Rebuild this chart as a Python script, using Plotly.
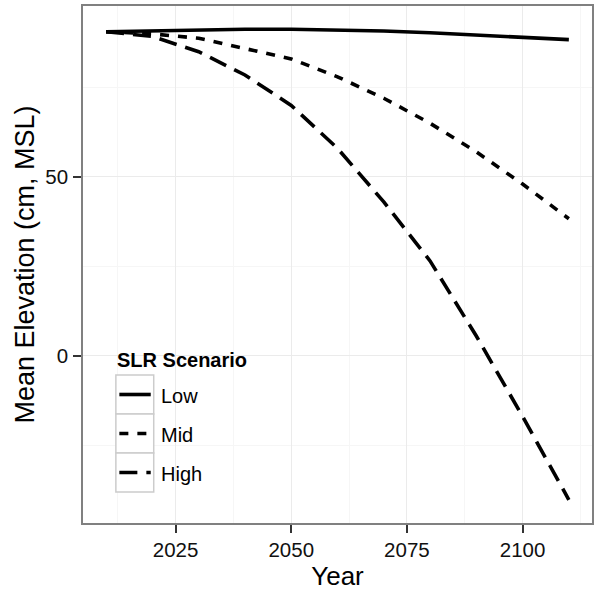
import plotly.graph_objects as go

years = [2010, 2020, 2030, 2040, 2050, 2060, 2070, 2080, 2090, 2100, 2110]
low = [90.6, 90.9, 91.1, 91.3, 91.3, 91.1, 90.8, 90.3, 89.7, 89.1, 88.4]
mid = [90.6, 90.0, 88.8, 86.0, 83.0, 78.0, 72.0, 65.0, 57.0, 48.0, 38.3]
high = [90.6, 89.3, 85.0, 78.5, 70.0, 58.0, 43.0, 26.5, 5.5, -17.0, -40.3]

series_names = ["Low", "Mid", "High"]
series_vals = [low, mid, high]
dashes = ["solid", "9px,9px", "18px,9px"]

W, H = 595, 592
L, R, T, B = 83, 1, 6, 69
FONT = "Liberation Sans, Arial, sans-serif"

fig = go.Figure()
for name, vals, d in zip(series_names, series_vals, dashes):
    fig.add_trace(go.Scatter(x=years, y=vals, mode="lines", name=name,
                             line=dict(color="black", width=3.6, dash=d),
                             showlegend=False))

pw = W - L - R
ph = H - T - B
def px2x(px):
    return (px - L) / pw
def px2y(py):
    return (H - B - py) / ph

# manual legend (ggplot style keys)
rows = [(375, 414), (414, 453), (453, 492)]
for (y0, y1), name, d in zip(rows, series_names, dashes):
    fig.add_shape(type="rect", xref="paper", yref="paper",
                  x0=px2x(116), x1=px2x(154), y0=px2y(y1), y1=px2y(y0),
                  line=dict(color="#cccccc", width=1.5), fillcolor="white", layer="above")
    yc = (y0 + y1) / 2
    fig.add_shape(type="line", xref="paper", yref="paper",
                  x0=px2x(119.5), x1=px2x(151), y0=px2y(yc), y1=px2y(yc),
                  line=dict(color="black", width=3.6, dash=d), layer="above")
    fig.add_annotation(xref="paper", yref="paper", x=px2x(159), y=px2y(yc + 1),
                       text=name, showarrow=False, xanchor="left", yanchor="middle",
                       font=dict(family=FONT, size=20, color="black"))
fig.add_annotation(xref="paper", yref="paper", x=px2x(115), y=px2y(360),
                   text="<b>SLR Scenario</b>", showarrow=False, xanchor="left", yanchor="middle",
                   font=dict(family=FONT, size=20, color="black"))

axis_common = dict(showline=True, mirror=True, linecolor="#808080", linewidth=1.5,
                   ticks="outside", ticklen=8, tickwidth=1.5, tickcolor="#333333",
                   tickfont=dict(family=FONT, size=20.5, color="#111111"),
                   gridcolor="#ebebeb", gridwidth=1.2, zeroline=False)

fig.update_xaxes(range=[2005, 2115], tickmode="linear", tick0=2000, dtick=25,
                 minor=dict(tickmode="linear", tick0=2000, dtick=12.5, showgrid=True,
                            gridcolor="#f6f6f6", gridwidth=1.2, ticks=""),
                 title=dict(text="Year", font=dict(family=FONT, size=26, color="black"), standoff=5),
                 **axis_common)
fig.update_yaxes(range=[-46.8, 97.8], tickmode="array", tickvals=[0, 50], ticktext=["0", "50"],
                 minor=dict(tickmode="array", tickvals=[-25, 25, 75], showgrid=True,
                            gridcolor="#f6f6f6", gridwidth=1.2, ticks=""),
                 ticklabelstandoff=1,
                 title=dict(text="Mean Elevation (cm, MSL)", font=dict(family=FONT, size=27, color="black"), standoff=3),
                 **axis_common)

fig.update_layout(width=W, height=H, margin=dict(l=L, r=R, t=T, b=B, pad=0),
                  paper_bgcolor="white", plot_bgcolor="white", showlegend=False)

fig.write_html("out.html")
